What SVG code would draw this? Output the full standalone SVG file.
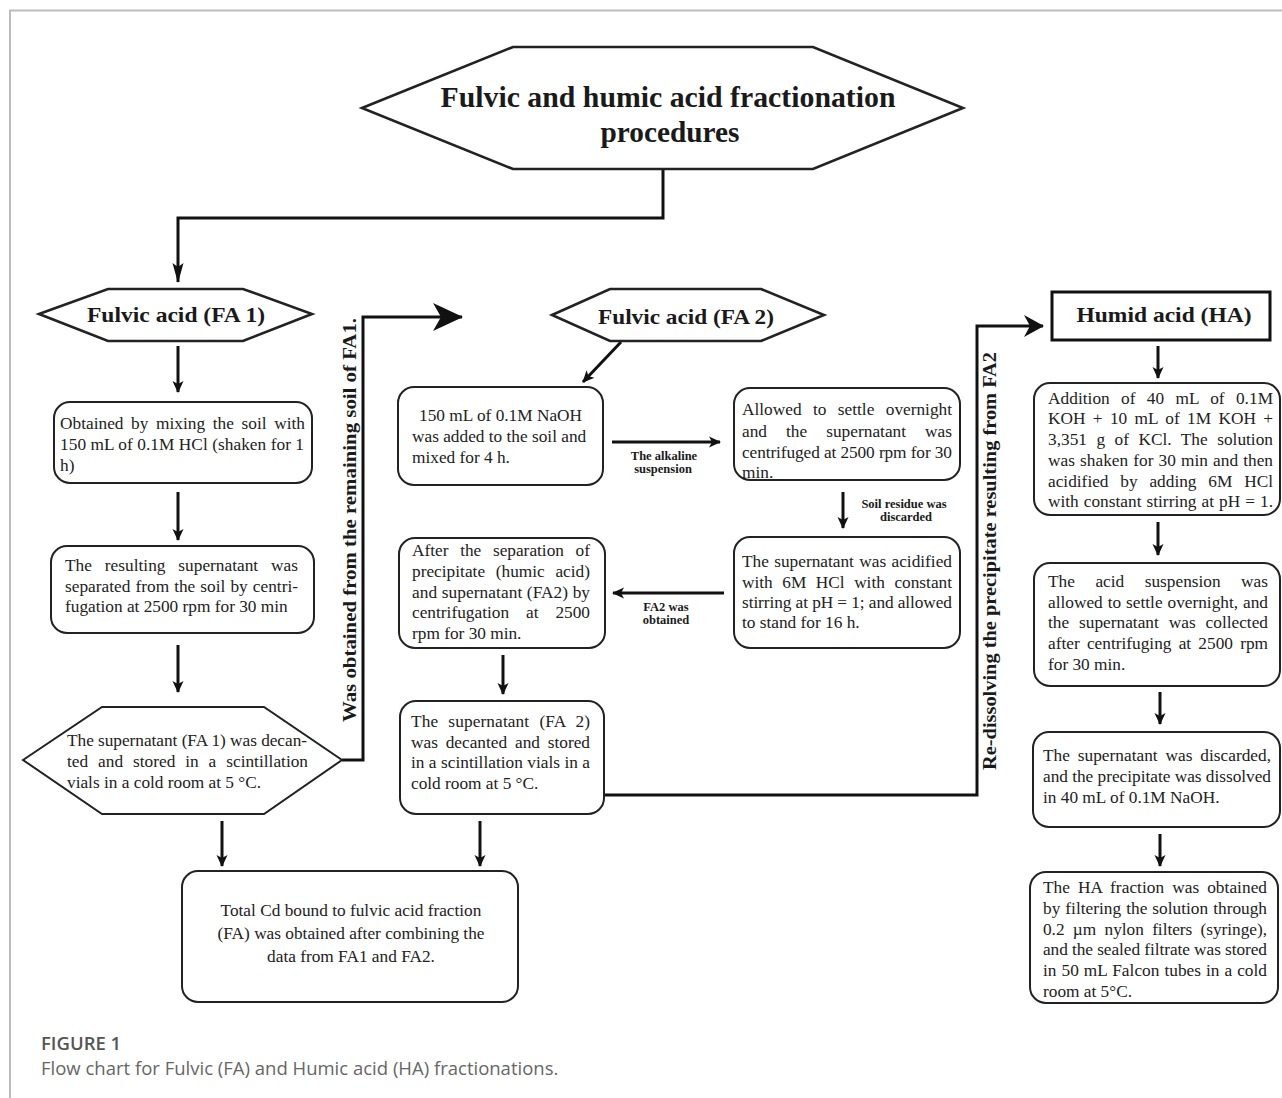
<svg xmlns="http://www.w3.org/2000/svg" width="1282" height="1098" viewBox="0 0 1282 1098">
<style>
.frame{fill:none;stroke:#bdbdbd;stroke-width:2}
.box{fill:#fff;stroke:#222;stroke-width:2}
.hx{fill:#fff;stroke:#222;stroke-width:2.6}
.t{font-family:"Liberation Serif","Times New Roman",serif;font-size:17.3px;fill:#222}
.h{font-family:"Liberation Serif","Times New Roman",serif;font-weight:bold;fill:#1a1a1a}
.lbl{font-family:"Liberation Serif","Times New Roman",serif;font-weight:bold;font-size:12.5px;fill:#1a1a1a}
.c{fill:none;stroke:#111;stroke-width:3}
.cap1{font-family:"Open Sans","Noto Sans",sans-serif;font-weight:600;font-size:18.5px;fill:#555}
.cap2{font-family:"Open Sans","Noto Sans",sans-serif;font-size:18.5px;fill:#666}
</style>
<defs>
<marker id="ah" markerUnits="userSpaceOnUse" viewBox="0 0 12 12" markerWidth="12" markerHeight="12" refX="11" refY="6" orient="auto">
<path d="M0,0.5 L12,6 L0,11.5 L3,6 z" fill="#111"/>
</marker>
<marker id="thin" markerUnits="userSpaceOnUse" viewBox="0 0 20 12" markerWidth="20" markerHeight="12" refX="19" refY="6" orient="auto">
<path d="M0,0.5 L20,6 L0,11.5 L4,6 z" fill="#111"/>
</marker>
<marker id="big" markerUnits="userSpaceOnUse" viewBox="0 0 30 28" markerWidth="30" markerHeight="28" refX="29" refY="14" orient="auto">
<path d="M0,0 L30,14 L0,28 L8,14 z" fill="#111"/>
</marker>
<marker id="mid" markerUnits="userSpaceOnUse" viewBox="0 0 20 22" markerWidth="20" markerHeight="22" refX="19" refY="11" orient="auto">
<path d="M0,0 L20,11 L0,22 L6,11 z" fill="#111"/>
</marker>
</defs>

<rect width="1282" height="1098" fill="#fff"/>
<path class="frame" d="M10,1098 V10.5 H1282"/>

<g id="connectors">
<path class="c" d="M663,169 V218 H178 V282" marker-end="url(#thin)"/>
<path class="c" d="M178,346 V392" marker-end="url(#ah)"/>
<path class="c" d="M178,492 V540" marker-end="url(#ah)"/>
<path class="c" d="M178,645 V692" marker-end="url(#ah)"/>
<path class="c" d="M342,760 H363 V317 H462" marker-end="url(#big)"/>
<path class="c" d="M621,342 L583,382" marker-end="url(#ah)"/>
<path class="c" d="M612,442 H720" marker-end="url(#ah)"/>
<path class="c" d="M843,492 V528" marker-end="url(#ah)"/>
<path class="c" d="M724,593 H613" marker-end="url(#ah)"/>
<path class="c" d="M503,655 V694" marker-end="url(#ah)"/>
<path class="c" d="M604,795 H977 V326 H1043" marker-end="url(#mid)"/>
<path class="c" d="M1158,346 V378" marker-end="url(#ah)"/>
<path class="c" d="M1158,522 V555" marker-end="url(#ah)"/>
<path class="c" d="M1160,692 V724" marker-end="url(#ah)"/>
<path class="c" d="M1160,834 V866" marker-end="url(#ah)"/>
<path class="c" d="M222,821 V866" marker-end="url(#ah)"/>
<path class="c" d="M480,821 V866" marker-end="url(#ah)"/>
<text class="lbl" x="664" y="460" text-anchor="middle">The alkaline</text>
<text class="lbl" x="663" y="473" text-anchor="middle">suspension</text>
<text class="lbl" x="904" y="508" text-anchor="middle">Soil residue was</text>
<text class="lbl" x="906" y="521" text-anchor="middle">discarded</text>
<text class="lbl" x="666" y="611" text-anchor="middle">FA2 was</text>
<text class="lbl" x="666" y="624" text-anchor="middle">obtained</text>
<text class="h" font-size="19" transform="translate(356,520) rotate(-90)" text-anchor="middle" textLength="404" lengthAdjust="spacingAndGlyphs">Was obtained from the remaining soil of FA1.</text>
<text class="h" font-size="19" transform="translate(996,561) rotate(-90)" text-anchor="middle" textLength="418" lengthAdjust="spacingAndGlyphs">Re-dissolving the precipitate resulting from FA2</text>
</g>

<g id="title">
<polygon class="hx" points="362,108 513,47 813,47 963,108 813,169 513,169"/>
<text class="h" font-size="29" x="668" y="107" text-anchor="middle" textLength="455" lengthAdjust="spacingAndGlyphs">Fulvic and humic acid fractionation</text>
<text class="h" font-size="29" x="670" y="142" text-anchor="middle" textLength="139" lengthAdjust="spacingAndGlyphs">procedures</text>
</g>

<g id="fa1">
<polygon class="hx" points="39,314 108,289 243,289 312,314 243,341 108,341"/>
<text class="h" font-size="21" x="176" y="322" text-anchor="middle" textLength="178" lengthAdjust="spacingAndGlyphs">Fulvic acid (FA 1)</text>
</g>

<g id="fa1-mix">
<rect class="box" x="54" y="402" width="258" height="81" rx="16"/>
<text class="t" x="60" y="429" word-spacing="3.3" textLength="245" lengthAdjust="spacing">Obtained by mixing the soil with</text>
<text class="t" x="60" y="450" textLength="244" lengthAdjust="spacing">150 mL of 0.1M HCl (shaken for 1</text>
<text class="t" x="60" y="471">h)</text>
</g>

<g id="fa1-centrifuge">
<rect class="box" x="51" y="546" width="263" height="87" rx="16"/>
<text class="t" x="65" y="571" word-spacing="8.6" textLength="233" lengthAdjust="spacing">The resulting supernatant was</text>
<text class="t" x="65" y="592" word-spacing="0.7" textLength="233" lengthAdjust="spacing">separated from the soil by centri-</text>
<text class="t" x="65" y="612">fugation at 2500 rpm for 30 min</text>
</g>

<g id="fa1-store">
<polygon class="box" points="23,760 102,707 264,707 342,760 264,814 102,814"/>
<text class="t" x="67" y="746" textLength="240" lengthAdjust="spacing">The supernatant (FA 1) was decan-</text>
<text class="t" x="67" y="767" word-spacing="5.6" textLength="241" lengthAdjust="spacing">ted and stored in a scintillation</text>
<text class="t" x="67" y="788">vials in a cold room at 5 °C.</text>
</g>

<g id="fa2">
<polygon class="hx" points="552,315 610,289 761,289 824,315 761,341 610,341"/>
<text class="h" font-size="21" x="686" y="324" text-anchor="middle" textLength="176" lengthAdjust="spacingAndGlyphs">Fulvic acid (FA 2)</text>
</g>

<g id="fa2-naoh">
<rect class="box" x="398" y="387" width="205" height="98" rx="16"/>
<text class="t" x="419" y="421">150 mL of 0.1M NaOH</text>
<text class="t" x="412" y="442">was added to the soil and</text>
<text class="t" x="412" y="463">mixed for 4 h.</text>
</g>

<g id="fa2-settle">
<rect class="box" x="734" y="388" width="226" height="92" rx="16"/>
<text class="t" x="742" y="415" word-spacing="7.1" textLength="210" lengthAdjust="spacing">Allowed to settle overnight</text>
<text class="t" x="742" y="437" word-spacing="14.7" textLength="210" lengthAdjust="spacing">and the supernatant was</text>
<text class="t" x="742" y="458" textLength="210" lengthAdjust="spacing">centrifuged at 2500 rpm for 30</text>
<text class="t" x="742" y="478">min.</text>
</g>

<g id="fa2-acidify">
<rect class="box" x="734" y="537" width="226" height="111" rx="16"/>
<text class="t" x="742" y="567" word-spacing="1" textLength="210" lengthAdjust="spacing">The supernatant was acidified</text>
<text class="t" x="742" y="588" word-spacing="5.2" textLength="210" lengthAdjust="spacing">with 6M HCl with constant</text>
<text class="t" x="742" y="608" textLength="210" lengthAdjust="spacing">stirring at pH = 1; and allowed</text>
<text class="t" x="742" y="628">to stand for 16 h.</text>
</g>

<g id="fa2-separate">
<rect class="box" x="399" y="538" width="206" height="110" rx="16"/>
<text class="t" x="412" y="556" word-spacing="7.3" textLength="178" lengthAdjust="spacing">After the separation of</text>
<text class="t" x="412" y="577" word-spacing="6.3" textLength="178" lengthAdjust="spacing">precipitate (humic acid)</text>
<text class="t" x="412" y="598" textLength="178" lengthAdjust="spacing">and supernatant (FA2) by</text>
<text class="t" x="412" y="618" word-spacing="12.6" textLength="178" lengthAdjust="spacing">centrifugation at 2500</text>
<text class="t" x="412" y="639">rpm for 30 min.</text>
</g>

<g id="fa2-store">
<rect class="box" x="400" y="701" width="204" height="113" rx="16"/>
<text class="t" x="411" y="727" word-spacing="5.7" textLength="179" lengthAdjust="spacing">The supernatant (FA 2)</text>
<text class="t" x="411" y="748" word-spacing="3.5" textLength="179" lengthAdjust="spacing">was decanted and stored</text>
<text class="t" x="411" y="768" textLength="179" lengthAdjust="spacing">in a scintillation vials in a</text>
<text class="t" x="411" y="789">cold room at 5 °C.</text>
</g>

<g id="total">
<rect class="box" x="182" y="871" width="336" height="131" rx="16"/>
<text class="t" font-size="19" x="351" y="916" text-anchor="middle">Total Cd bound to fulvic acid fraction</text>
<text class="t" font-size="19" x="351" y="939" text-anchor="middle">(FA) was obtained after combining the</text>
<text class="t" font-size="19" x="351" y="962" text-anchor="middle">data from FA1 and FA2.</text>
</g>

<g id="ha">
<rect x="1052" y="292" width="218" height="48" fill="#fff" stroke="#111" stroke-width="3"/>
<text class="h" font-size="21" x="1164" y="322" text-anchor="middle" textLength="175" lengthAdjust="spacingAndGlyphs">Humid acid (HA)</text>
</g>

<g id="ha-koh">
<rect class="box" x="1034" y="383" width="246" height="132" rx="16"/>
<text class="t" x="1048" y="404" word-spacing="6.9" textLength="225" lengthAdjust="spacing">Addition of 40 mL of 0.1M</text>
<text class="t" x="1048" y="424" word-spacing="2.9" textLength="225" lengthAdjust="spacing">KOH + 10 mL of 1M KOH +</text>
<text class="t" x="1048" y="445" word-spacing="5.1" textLength="225" lengthAdjust="spacing">3,351 g of KCl. The solution</text>
<text class="t" x="1048" y="466" word-spacing="0.8" textLength="225" lengthAdjust="spacing">was shaken for 30 min and then</text>
<text class="t" x="1048" y="487" word-spacing="7.5" textLength="225" lengthAdjust="spacing">acidified by adding 6M HCl</text>
<text class="t" x="1048" y="507" word-spacing="0.7" textLength="225" lengthAdjust="spacing">with constant stirring at pH = 1.</text>
</g>

<g id="ha-settle">
<rect class="box" x="1034" y="563" width="246" height="123" rx="16"/>
<text class="t" x="1048" y="587" word-spacing="16.2" textLength="220" lengthAdjust="spacing">The acid suspension was</text>
<text class="t" x="1048" y="608" word-spacing="0.6" textLength="220" lengthAdjust="spacing">allowed to settle overnight, and</text>
<text class="t" x="1048" y="628" word-spacing="5.6" textLength="220" lengthAdjust="spacing">the supernatant was collected</text>
<text class="t" x="1048" y="649" word-spacing="2.9" textLength="220" lengthAdjust="spacing">after centrifuging at 2500 rpm</text>
<text class="t" x="1048" y="670">for 30 min.</text>
</g>

<g id="ha-dissolve">
<rect class="box" x="1033" y="732" width="247" height="95" rx="16"/>
<text class="t" x="1043" y="761" word-spacing="3.6" textLength="228" lengthAdjust="spacing">The supernatant was discarded,</text>
<text class="t" x="1043" y="782" textLength="228" lengthAdjust="spacing">and the precipitate was dissolved</text>
<text class="t" x="1043" y="803">in 40 mL of 0.1M NaOH.</text>
</g>

<g id="ha-filter">
<rect class="box" x="1030" y="872" width="248" height="131" rx="16"/>
<text class="t" x="1043" y="893" word-spacing="3.6" textLength="224" lengthAdjust="spacing">The HA fraction was obtained</text>
<text class="t" x="1043" y="914" word-spacing="0.7" textLength="224" lengthAdjust="spacing">by filtering the solution through</text>
<text class="t" x="1043" y="935" word-spacing="4.1" textLength="224" lengthAdjust="spacing">0.2 µm nylon filters (syringe),</text>
<text class="t" x="1043" y="955" textLength="224" lengthAdjust="spacing">and the sealed filtrate was stored</text>
<text class="t" x="1043" y="976" word-spacing="0.6" textLength="224" lengthAdjust="spacing">in 50 mL Falcon tubes in a cold</text>
<text class="t" x="1043" y="997">room at 5°C.</text>
</g>

<g id="caption">
<text class="cap1" x="41" y="1050">FIGURE 1</text>
<text class="cap2" x="41" y="1075">Flow chart for Fulvic (FA) and Humic acid (HA) fractionations.</text>
</g>
</svg>
